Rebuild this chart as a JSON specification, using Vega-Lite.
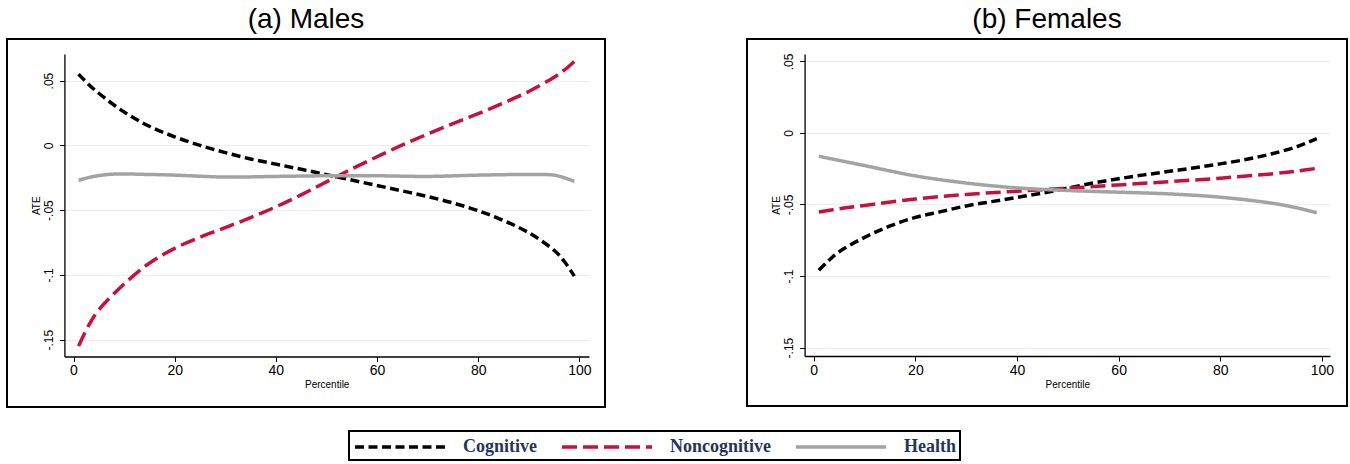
{
  "$schema": "https://vega.github.io/schema/vega-lite/v6.json",
  "background": "white",
  "padding": {"left": 6, "top": 5, "right": 0, "bottom": 0},
  "datasets": {
    "ate": [
      {"panel": "Males", "series": "Cognitive", "pct": 1, "ate": 0.055},
      {"panel": "Males", "series": "Cognitive", "pct": 3, "ate": 0.047},
      {"panel": "Males", "series": "Cognitive", "pct": 5, "ate": 0.0402},
      {"panel": "Males", "series": "Cognitive", "pct": 10, "ate": 0.0257},
      {"panel": "Males", "series": "Cognitive", "pct": 15, "ate": 0.0147},
      {"panel": "Males", "series": "Cognitive", "pct": 20, "ate": 0.0066},
      {"panel": "Males", "series": "Cognitive", "pct": 25, "ate": 0.0},
      {"panel": "Males", "series": "Cognitive", "pct": 30, "ate": -0.0056},
      {"panel": "Males", "series": "Cognitive", "pct": 35, "ate": -0.0105},
      {"panel": "Males", "series": "Cognitive", "pct": 40, "ate": -0.0145},
      {"panel": "Males", "series": "Cognitive", "pct": 45, "ate": -0.0185},
      {"panel": "Males", "series": "Cognitive", "pct": 50, "ate": -0.0226},
      {"panel": "Males", "series": "Cognitive", "pct": 55, "ate": -0.0268},
      {"panel": "Males", "series": "Cognitive", "pct": 60, "ate": -0.031},
      {"panel": "Males", "series": "Cognitive", "pct": 65, "ate": -0.0352},
      {"panel": "Males", "series": "Cognitive", "pct": 70, "ate": -0.0395},
      {"panel": "Males", "series": "Cognitive", "pct": 75, "ate": -0.0445},
      {"panel": "Males", "series": "Cognitive", "pct": 80, "ate": -0.0505},
      {"panel": "Males", "series": "Cognitive", "pct": 85, "ate": -0.058},
      {"panel": "Males", "series": "Cognitive", "pct": 90, "ate": -0.0675},
      {"panel": "Males", "series": "Cognitive", "pct": 95, "ate": -0.081},
      {"panel": "Males", "series": "Cognitive", "pct": 97, "ate": -0.0895},
      {"panel": "Males", "series": "Cognitive", "pct": 99, "ate": -0.101},

      {"panel": "Males", "series": "Noncognitive", "pct": 1, "ate": -0.155},
      {"panel": "Males", "series": "Noncognitive", "pct": 3, "ate": -0.139},
      {"panel": "Males", "series": "Noncognitive", "pct": 5, "ate": -0.127},
      {"panel": "Males", "series": "Noncognitive", "pct": 10, "ate": -0.107},
      {"panel": "Males", "series": "Noncognitive", "pct": 15, "ate": -0.091},
      {"panel": "Males", "series": "Noncognitive", "pct": 20, "ate": -0.0795},
      {"panel": "Males", "series": "Noncognitive", "pct": 25, "ate": -0.071},
      {"panel": "Males", "series": "Noncognitive", "pct": 30, "ate": -0.0635},
      {"panel": "Males", "series": "Noncognitive", "pct": 35, "ate": -0.0558},
      {"panel": "Males", "series": "Noncognitive", "pct": 40, "ate": -0.0475},
      {"panel": "Males", "series": "Noncognitive", "pct": 45, "ate": -0.0382},
      {"panel": "Males", "series": "Noncognitive", "pct": 50, "ate": -0.0282},
      {"panel": "Males", "series": "Noncognitive", "pct": 55, "ate": -0.0182},
      {"panel": "Males", "series": "Noncognitive", "pct": 60, "ate": -0.0088},
      {"panel": "Males", "series": "Noncognitive", "pct": 65, "ate": 0.0003},
      {"panel": "Males", "series": "Noncognitive", "pct": 70, "ate": 0.0087},
      {"panel": "Males", "series": "Noncognitive", "pct": 75, "ate": 0.0168},
      {"panel": "Males", "series": "Noncognitive", "pct": 80, "ate": 0.0245},
      {"panel": "Males", "series": "Noncognitive", "pct": 85, "ate": 0.0327},
      {"panel": "Males", "series": "Noncognitive", "pct": 90, "ate": 0.0416},
      {"panel": "Males", "series": "Noncognitive", "pct": 95, "ate": 0.0526},
      {"panel": "Males", "series": "Noncognitive", "pct": 97, "ate": 0.058},
      {"panel": "Males", "series": "Noncognitive", "pct": 99, "ate": 0.0648},

      {"panel": "Males", "series": "Health", "pct": 1, "ate": -0.027},
      {"panel": "Males", "series": "Health", "pct": 4, "ate": -0.024},
      {"panel": "Males", "series": "Health", "pct": 8, "ate": -0.0222},
      {"panel": "Males", "series": "Health", "pct": 15, "ate": -0.0225},
      {"panel": "Males", "series": "Health", "pct": 20, "ate": -0.023},
      {"panel": "Males", "series": "Health", "pct": 30, "ate": -0.0245},
      {"panel": "Males", "series": "Health", "pct": 40, "ate": -0.024},
      {"panel": "Males", "series": "Health", "pct": 50, "ate": -0.0235},
      {"panel": "Males", "series": "Health", "pct": 60, "ate": -0.0235},
      {"panel": "Males", "series": "Health", "pct": 70, "ate": -0.024},
      {"panel": "Males", "series": "Health", "pct": 80, "ate": -0.023},
      {"panel": "Males", "series": "Health", "pct": 90, "ate": -0.0225},
      {"panel": "Males", "series": "Health", "pct": 95, "ate": -0.023},
      {"panel": "Males", "series": "Health", "pct": 97, "ate": -0.025},
      {"panel": "Males", "series": "Health", "pct": 99, "ate": -0.0278},

      {"panel": "Females", "series": "Cognitive", "pct": 1, "ate": -0.096},
      {"panel": "Females", "series": "Cognitive", "pct": 3, "ate": -0.089},
      {"panel": "Females", "series": "Cognitive", "pct": 5, "ate": -0.083},
      {"panel": "Females", "series": "Cognitive", "pct": 10, "ate": -0.073},
      {"panel": "Females", "series": "Cognitive", "pct": 15, "ate": -0.065},
      {"panel": "Females", "series": "Cognitive", "pct": 20, "ate": -0.059},
      {"panel": "Females", "series": "Cognitive", "pct": 25, "ate": -0.055},
      {"panel": "Females", "series": "Cognitive", "pct": 30, "ate": -0.051},
      {"panel": "Females", "series": "Cognitive", "pct": 35, "ate": -0.048},
      {"panel": "Females", "series": "Cognitive", "pct": 40, "ate": -0.045},
      {"panel": "Females", "series": "Cognitive", "pct": 45, "ate": -0.042},
      {"panel": "Females", "series": "Cognitive", "pct": 50, "ate": -0.0385},
      {"panel": "Females", "series": "Cognitive", "pct": 55, "ate": -0.035},
      {"panel": "Females", "series": "Cognitive", "pct": 60, "ate": -0.032},
      {"panel": "Females", "series": "Cognitive", "pct": 65, "ate": -0.0293},
      {"panel": "Females", "series": "Cognitive", "pct": 70, "ate": -0.0268},
      {"panel": "Females", "series": "Cognitive", "pct": 75, "ate": -0.0243},
      {"panel": "Females", "series": "Cognitive", "pct": 80, "ate": -0.0216},
      {"panel": "Females", "series": "Cognitive", "pct": 85, "ate": -0.0186},
      {"panel": "Females", "series": "Cognitive", "pct": 90, "ate": -0.0147},
      {"panel": "Females", "series": "Cognitive", "pct": 95, "ate": -0.0097},
      {"panel": "Females", "series": "Cognitive", "pct": 97, "ate": -0.007},
      {"panel": "Females", "series": "Cognitive", "pct": 99, "ate": -0.004},

      {"panel": "Females", "series": "Noncognitive", "pct": 1, "ate": -0.0553},
      {"panel": "Females", "series": "Noncognitive", "pct": 5, "ate": -0.053},
      {"panel": "Females", "series": "Noncognitive", "pct": 10, "ate": -0.0507},
      {"panel": "Females", "series": "Noncognitive", "pct": 20, "ate": -0.0462},
      {"panel": "Females", "series": "Noncognitive", "pct": 30, "ate": -0.043},
      {"panel": "Females", "series": "Noncognitive", "pct": 40, "ate": -0.0407},
      {"panel": "Females", "series": "Noncognitive", "pct": 50, "ate": -0.0386},
      {"panel": "Females", "series": "Noncognitive", "pct": 60, "ate": -0.0363},
      {"panel": "Females", "series": "Noncognitive", "pct": 70, "ate": -0.034},
      {"panel": "Females", "series": "Noncognitive", "pct": 80, "ate": -0.0316},
      {"panel": "Females", "series": "Noncognitive", "pct": 90, "ate": -0.0286},
      {"panel": "Females", "series": "Noncognitive", "pct": 95, "ate": -0.0267},
      {"panel": "Females", "series": "Noncognitive", "pct": 99, "ate": -0.0247},

      {"panel": "Females", "series": "Health", "pct": 1, "ate": -0.0163},
      {"panel": "Females", "series": "Health", "pct": 10, "ate": -0.0228},
      {"panel": "Females", "series": "Health", "pct": 20, "ate": -0.03},
      {"panel": "Females", "series": "Health", "pct": 30, "ate": -0.035},
      {"panel": "Females", "series": "Health", "pct": 40, "ate": -0.0384},
      {"panel": "Females", "series": "Health", "pct": 50, "ate": -0.0402},
      {"panel": "Females", "series": "Health", "pct": 60, "ate": -0.0414},
      {"panel": "Females", "series": "Health", "pct": 70, "ate": -0.0426},
      {"panel": "Females", "series": "Health", "pct": 80, "ate": -0.0449},
      {"panel": "Females", "series": "Health", "pct": 90, "ate": -0.049},
      {"panel": "Females", "series": "Health", "pct": 95, "ate": -0.0523},
      {"panel": "Females", "series": "Health", "pct": 99, "ate": -0.0558}
    ]
  },
  "data": {"name": "ate"},
  "spacing": 140,
  "hconcat": [
    {
      "title": "(a) Males",
      "width": 598,
      "height": 368,
      "transform": [{"filter": "datum.panel === 'Males'"}],
      "mark": {"type": "line", "strokeWidth": 3.5, "interpolate": "catmull-rom"},
      "encoding": {
        "x": {
          "field": "pct", "type": "quantitative",
          "scale": {"domain": [-1.8, 101.9], "range": [57.4, 582], "nice": false, "zero": false},
          "axis": {"values": [0, 20, 40, 60, 80, 100], "title": "Percentile", "offset": -50.5}
        },
        "y": {
          "field": "ate", "type": "quantitative",
          "scale": {"domain": [-0.163, 0.0705], "range": [317.5, 15], "nice": false, "zero": false},
          "axis": {"values": [-0.15, -0.1, -0.05, 0, 0.05], "title": "ATE", "offset": -57.4}
        },
        "color": {
          "field": "series", "type": "nominal", "title": null,
          "scale": {"domain": ["Cognitive", "Noncognitive", "Health"], "range": ["#000000", "#c8103c", "#a3a3a3"]}
        },
        "strokeDash": {
          "field": "series", "type": "nominal", "title": null,
          "scale": {"domain": ["Cognitive", "Noncognitive", "Health"], "range": [[9, 4.5], [15, 6], [1, 0]]}
        }
      }
    },
    {
      "title": "(b) Females",
      "width": 600,
      "height": 367,
      "transform": [{"filter": "datum.panel === 'Females'"}],
      "mark": {"type": "line", "strokeWidth": 3.5, "interpolate": "catmull-rom"},
      "encoding": {
        "x": {
          "field": "pct", "type": "quantitative",
          "scale": {"domain": [-1.8, 101.6], "range": [57.6, 583], "nice": false, "zero": false},
          "axis": {"values": [0, 20, 40, 60, 80, 100], "title": "Percentile", "offset": -50}
        },
        "y": {
          "field": "ate", "type": "quantitative",
          "scale": {"domain": [-0.1559, 0.0552], "range": [317, 15], "nice": false, "zero": false},
          "axis": {"values": [-0.15, -0.1, -0.05, 0, 0.05], "title": "ATE", "offset": -57.6}
        },
        "color": {
          "field": "series", "type": "nominal", "title": null,
          "scale": {"domain": ["Cognitive", "Noncognitive", "Health"], "range": ["#000000", "#c8103c", "#a3a3a3"]}
        },
        "strokeDash": {
          "field": "series", "type": "nominal", "title": null,
          "scale": {"domain": ["Cognitive", "Noncognitive", "Health"], "range": [[9, 4.5], [15, 6], [1, 0]]}
        }
      }
    }
  ],
  "config": {
    "font": "Liberation Sans",
    "view": {"stroke": "#000000", "strokeWidth": 2},
    "title": {"fontSize": 28, "fontWeight": "normal", "color": "#000000", "anchor": "middle", "offset": 5},
    "axis": {
      "domainColor": "#000000", "domainWidth": 1.3,
      "tickColor": "#000000", "tickSize": 5, "tickWidth": 1,
      "labelColor": "#000000", "labelFont": "Liberation Sans",
      "titleColor": "#000000", "titleFont": "Liberation Sans", "titleFontWeight": "normal", "titleFontSize": 10
    },
    "axisX": {"grid": false, "labelFontSize": 14, "labelPadding": 2, "titlePadding": 2},
    "axisY": {
      "grid": true, "gridColor": "#eeeeee", "gridWidth": 1,
      "labelFontSize": 12, "labelAngle": -90, "labelAlign": "center", "labelBaseline": "bottom", "labelPadding": 4,
      "titlePadding": 1,
      "labelExpr": "round(datum.value * 100) == 5 ? '.05' : round(datum.value * 100) == 0 ? '0' : round(datum.value * 100) == -5 ? '-.05' : round(datum.value * 100) == -10 ? '-.1' : '-.15'"
    },
    "legend": {
      "orient": "none", "legendX": 342, "legendY": 392,
      "direction": "horizontal",
      "strokeColor": "#000000", "strokeWidth": 2, "padding": 4, "fillColor": "#ffffff",
      "symbolType": "M-4.5,0H4.5", "symbolSize": 400, "symbolStrokeWidth": 3.5, "symbolOffset": 35,
      "labelFont": "Liberation Serif", "labelFontWeight": "bold", "labelFontSize": 18, "labelColor": "#24355c",
      "labelOffset": 51, "columnPadding": 18
    }
  }
}
